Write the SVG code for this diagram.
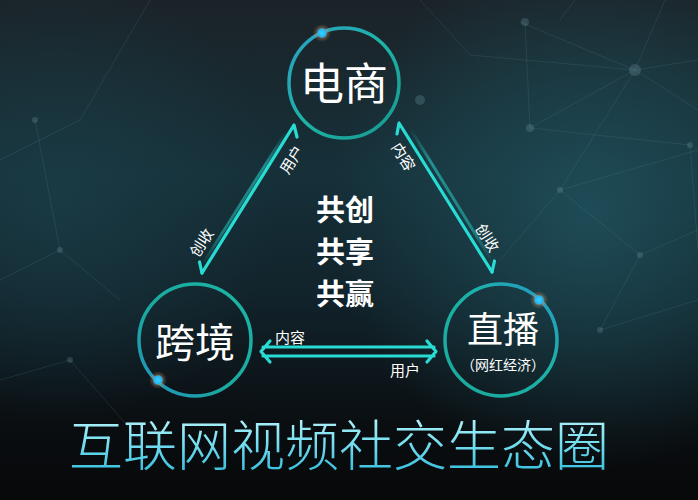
<svg xmlns="http://www.w3.org/2000/svg" width="698" height="500" viewBox="0 0 698 500">
<defs>
<linearGradient id="bg" x1="0" y1="0" x2="0" y2="1">
<stop offset="0" stop-color="#1b2328"/>
<stop offset="0.35" stop-color="#163039"/>
<stop offset="0.6" stop-color="#11222a"/>
<stop offset="0.85" stop-color="#0a0e11"/>
<stop offset="1" stop-color="#070809"/>
</linearGradient>
<radialGradient id="glowR" cx="590" cy="210" r="260" gradientUnits="userSpaceOnUse">
<stop offset="0" stop-color="#1f4f5a" stop-opacity="0.9"/>
<stop offset="1" stop-color="#1f4f5a" stop-opacity="0"/>
</radialGradient>
<radialGradient id="glowL" cx="60" cy="200" r="220" gradientUnits="userSpaceOnUse">
<stop offset="0" stop-color="#1b3f49" stop-opacity="0.7"/>
<stop offset="1" stop-color="#1b3f49" stop-opacity="0"/>
</radialGradient>
<linearGradient id="ringTop" x1="0" y1="0" x2="1" y2="1">
<stop offset="0" stop-color="#2a9fc4"/>
<stop offset="0.5" stop-color="#1eb3a6"/>
<stop offset="1" stop-color="#15978f"/>
</linearGradient>
<linearGradient id="ringL" x1="1" y1="0" x2="0" y2="1">
<stop offset="0" stop-color="#1cb5a6"/>
<stop offset="0.6" stop-color="#1aa89f"/>
<stop offset="1" stop-color="#2390c0"/>
</linearGradient>
<linearGradient id="ringR" x1="0" y1="1" x2="1" y2="0">
<stop offset="0" stop-color="#1aa89c"/>
<stop offset="0.6" stop-color="#1cb2a8"/>
<stop offset="1" stop-color="#2796c6"/>
</linearGradient>
<radialGradient id="dot">
<stop offset="0" stop-color="#40d2ff"/>
<stop offset="0.45" stop-color="#20b4f0"/>
<stop offset="0.6" stop-color="#c9946a" stop-opacity="0.35"/>
<stop offset="1" stop-color="#c9946a" stop-opacity="0"/>
</radialGradient>
<linearGradient id="title" x1="0" y1="0" x2="0" y2="1">
<stop offset="0" stop-color="#d6fbff"/>
<stop offset="0.45" stop-color="#7fe3f2"/>
<stop offset="1" stop-color="#22b4d8"/>
</linearGradient>
<linearGradient id="fadeL" gradientUnits="userSpaceOnUse" x1="290" y1="135" x2="205" y2="268">
<stop offset="0" stop-color="#27d8cf" stop-opacity="0"/>
<stop offset="0.25" stop-color="#27d8cf" stop-opacity="0.55"/>
<stop offset="0.75" stop-color="#27d8cf" stop-opacity="0.45"/>
<stop offset="1" stop-color="#27d8cf" stop-opacity="0"/>
</linearGradient>
<linearGradient id="fadeR" gradientUnits="userSpaceOnUse" x1="405" y1="132" x2="488" y2="266">
<stop offset="0" stop-color="#27d8cf" stop-opacity="0"/>
<stop offset="0.25" stop-color="#27d8cf" stop-opacity="0.55"/>
<stop offset="0.75" stop-color="#27d8cf" stop-opacity="0.45"/>
<stop offset="1" stop-color="#27d8cf" stop-opacity="0"/>
</linearGradient>
<style>
.ring{fill:none;stroke-width:3.5}
.node{font-family:"Noto Sans CJK SC","Noto Sans",sans-serif;fill:#ffffff;text-anchor:middle}
.lbl{font-family:"Noto Sans CJK SC","Noto Sans",sans-serif;fill:#ffffff;font-size:15px;text-anchor:middle}
.arr{fill:none;stroke:#28dcd4;stroke-width:3.2;stroke-linecap:round;stroke-linejoin:round}
.net{stroke:#5a8f9a;stroke-opacity:0.18;stroke-width:1;fill:none}
.nd{fill:#7aa5ae;fill-opacity:0.25}
</style>
</defs>
<rect width="698" height="500" fill="url(#bg)"/>
<rect width="698" height="500" fill="url(#glowR)"/>
<rect width="698" height="500" fill="url(#glowL)"/>
<g id="network">
<path class="net" d="M520 22 L635 70 L698 60 M525 22 L530 128 L635 70 L560 190 L698 150 M530 128 L690 145 M635 70 L665 0 M560 20 L575 0 M635 70 L698 110 M560 190 L640 255 L698 230 M640 255 L600 330 M690 145 L698 250 M420 0 L470 55 L635 70 M0 160 L80 120 L150 0 M0 280 L60 250 L120 300 M60 250 L35 120 M0 380 L70 360 L140 440 M600 330 L698 300 M560 190 L500 260"/>
<circle class="nd" cx="525" cy="22" r="4"/>
<circle class="nd" cx="635" cy="70" r="6"/>
<circle class="nd" cx="530" cy="128" r="4"/>
<circle class="nd" cx="690" cy="145" r="3"/>
<circle class="nd" cx="560" cy="190" r="3"/>
<circle class="nd" cx="640" cy="255" r="3"/>
<circle class="nd" cx="60" cy="250" r="3"/>
<circle class="nd" cx="35" cy="120" r="3"/>
<circle class="nd" cx="600" cy="330" r="3"/>
<circle class="nd" cx="70" cy="360" r="3"/>
<circle class="nd" cx="420" cy="100" r="5"/>
</g>
<g id="connectors">
<path d="M286 132 L204 262" stroke="url(#fadeL)" stroke-width="3" fill="none"/>
<path class="arr" d="M202 273 L294 125 L297 137"/>
<path class="arr" d="M202 273 L199.5 262"/>
<path d="M411 130 L492 261" stroke="url(#fadeR)" stroke-width="3" fill="none"/>
<path class="arr" d="M492 272 L399 123 L397 134"/>
<path class="arr" d="M492 272 L494.5 261"/>
<path class="arr" d="M270 341 L261 351.5 L270 362 M263 347 L434 347 M263 356 L434 356 M427 341 L436 351.5 L427 362"/>
<text class="lbl" transform="translate(292 160) rotate(-58)" dy="5">用户</text>
<text class="lbl" transform="translate(202 243) rotate(-58)" dy="5">创收</text>
<text class="lbl" transform="translate(403 157) rotate(58)" dy="5">内容</text>
<text class="lbl" transform="translate(487 238) rotate(58)" dy="5">创收</text>
<text class="lbl" x="290" y="343">内容</text>
<text class="lbl" x="405" y="376">用户</text>
</g>
<g id="dianshang">
<circle class="ring" cx="344" cy="83" r="55" stroke="url(#ringTop)"/>
<circle cx="322" cy="33" r="9" fill="url(#dot)"/>
<text class="node" x="344" y="100" font-size="44">电商</text>
</g>
<g id="kuajing">
<circle class="ring" cx="195" cy="340" r="56" stroke="url(#ringL)"/>
<circle cx="158" cy="380" r="9" fill="url(#dot)"/>
<text class="node" x="195" y="357" font-size="40">跨境</text>
</g>
<g id="zhibo">
<circle class="ring" cx="501" cy="340" r="56" stroke="url(#ringR)"/>
<circle cx="539" cy="300" r="9" fill="url(#dot)"/>
<text class="node" x="503" y="343" font-size="36">直播</text>
<text class="node" x="503" y="370" font-size="14">（网红经济）</text>
</g>
<g id="center">
<text class="node" x="345" y="221" font-size="29" font-weight="bold">共创</text>
<text class="node" x="345" y="263" font-size="29" font-weight="bold">共享</text>
<text class="node" x="345" y="305" font-size="29" font-weight="bold">共赢</text>
</g>
<g id="title">
<text x="339" y="466" font-family="'Noto Sans CJK SC','Noto Sans',sans-serif" font-size="54" font-weight="300" fill="url(#title)" text-anchor="middle" textLength="540" lengthAdjust="spacing">互联网视频社交生态圈</text>
</g>
</svg>
